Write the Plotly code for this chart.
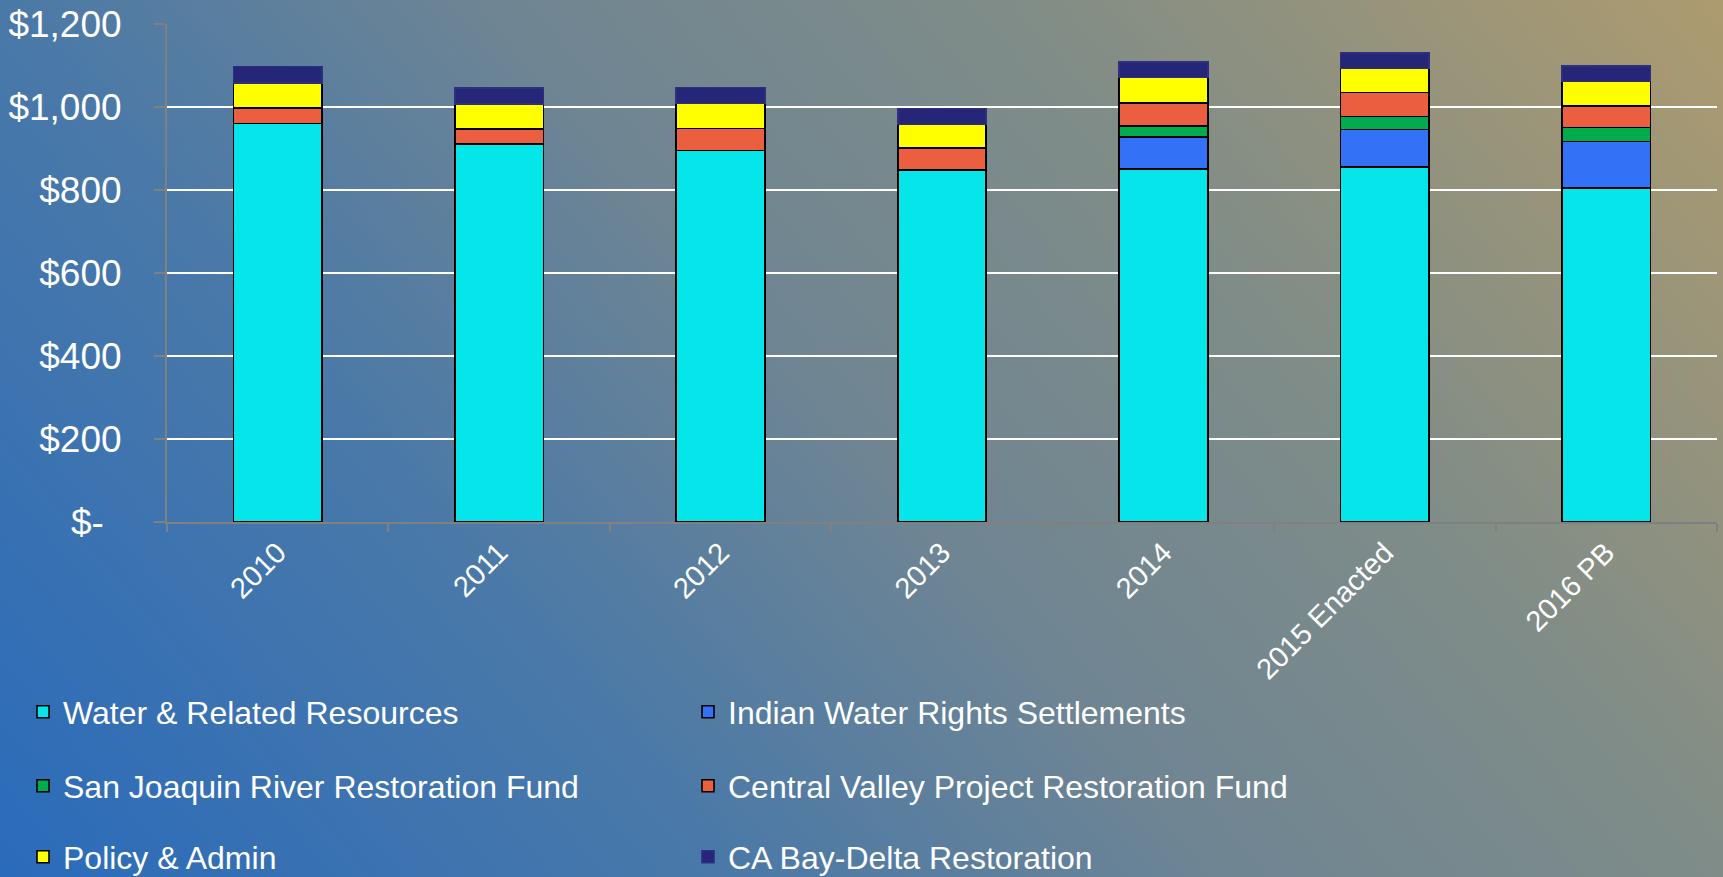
import base64
import plotly.graph_objects as go

# ---------------- data ----------------
categories = ["2010", "2011", "2012", "2013", "2014", "2015 Enacted", "2016 PB"]

water_related = [960, 911, 895, 848, 851, 855, 805]
indian_water = [0, 0, 0, 0, 77, 91, 112]
san_joaquin = [0, 0, 0, 0, 26, 31, 34]
cvp_restoration = [37, 36, 53, 53, 56, 58, 51]
policy_admin = [61, 60, 60, 57, 61, 58, 59]
bay_delta = [40, 39, 39, 38, 37, 37, 38]

series_names = [
    "Water & Related Resources",
    "Indian Water Rights Settlements",
    "San Joaquin River Restoration Fund",
    "Central Valley Project Restoration Fund",
    "Policy & Admin",
    "CA Bay-Delta Restoration",
]
series_values = [water_related, indian_water, san_joaquin, cvp_restoration, policy_admin, bay_delta]
series_colors = ["#05e6eb", "#3371f6", "#00ab4f", "#eb5e40", "#ffff00", "#262679"]
line_colors = ["#000000", "#000000", "#000000", "#000000", "#000000", "#2f2f80"]
legend_ids = ["legend", "legend", "legend2", "legend2", "legend3", "legend3"]

y_tickvals = [0, 200, 400, 600, 800, 1000, 1200]
y_ticktext = ["$-\u00a0\u2009", "$200", "$400", "$600", "$800", "$1,000", "$1,200"]

# ---------------- layout geometry ----------------
W, H = 1723, 877
ML, MR, MT, MB = 167, 6, 24, 355
PW, PH = W - ML - MR, H - MT - MB

FONT = "Liberation Sans, Arial, sans-serif"

fig = go.Figure()
for name, vals, col, lc, lg in zip(series_names, series_values, series_colors, line_colors, legend_ids):
    fig.add_trace(go.Bar(
        x=categories, y=vals, name=name, legend=lg,
        marker=dict(color=col, line=dict(color=lc, width=1.6)),
    ))

# gradient background as an SVG image
gx2, gy2 = 1440, -336
svg = (
    f'<svg xmlns="http://www.w3.org/2000/svg" width="{W}" height="{H}" viewBox="0 0 {W} {H}" preserveAspectRatio="none">'
    f'<defs><linearGradient id="g" gradientUnits="userSpaceOnUse" x1="0" y1="{H}" x2="{gx2}" y2="{gy2}">'
    '<stop offset="0" stop-color="#2a6bbb"/>'
    '<stop offset="0.3" stop-color="#4a79a8"/>'
    '<stop offset="0.5" stop-color="#6f8593"/>'
    '<stop offset="0.7" stop-color="#7f8c88"/>'
    '<stop offset="1" stop-color="#ad9b6f"/>'
    '</linearGradient></defs>'
    f'<rect x="0" y="0" width="{W}" height="{H}" fill="url(#g)"/></svg>'
)
src = "data:image/svg+xml;base64," + base64.b64encode(svg.encode()).decode()

fig.add_layout_image(dict(
    source=src, xref="paper", yref="paper",
    x=-ML / PW, y=1 + MT / PH, sizex=W / PW, sizey=H / PH,
    xanchor="left", yanchor="top", sizing="stretch", layer="below",
))

legend_common = dict(
    orientation="h", xref="container", yref="container", xanchor="left", yanchor="middle",
    font=dict(family=FONT, size=32, color="white"), bgcolor="rgba(0,0,0,0)",
    entrywidth=620, entrywidthmode="pixels", itemclick=False, traceorder="normal",
)

fig.update_layout(
    width=W, height=H,
    margin=dict(l=ML, r=MR, t=MT, b=MB, pad=0, autoexpand=False),
    paper_bgcolor="#6f8593",
    plot_bgcolor="rgba(0,0,0,0)",
    barmode="stack",
    bargap=0.6,
    font=dict(family=FONT, color="white"),
    legend=dict(**legend_common, x=23 / W, y=1 - 712 / H),
    legend2=dict(**legend_common, x=23 / W, y=1 - 786 / H),
    legend3=dict(**legend_common, x=23 / W, y=1 - 857 / H),
    xaxis=dict(
        type="category", tickangle=-45, tickfont=dict(family=FONT, size=29, color="white"),
        showline=True, linecolor="#808080", linewidth=2,
        ticks="outside", tickson="boundaries", ticklen=8, tickcolor="#808080", tickwidth=2,
        showgrid=False, automargin=False,
    ),
    yaxis=dict(
        range=[0, 1200], tickvals=y_tickvals, ticktext=y_ticktext,
        tickfont=dict(family=FONT, size=37, color="white"),
        showline=True, linecolor="#808080", linewidth=2,
        ticks="outside", ticklen=11, tickcolor="#808080", tickwidth=2,
        showgrid=True, gridcolor="white", gridwidth=2,
        zeroline=False, ticklabelstandoff=25, automargin=False,
    ),
)

fig.write_html(
    "out.html",
    config={"displayModeBar": False},
    post_script="document.body.style.margin='0';document.body.style.overflow='hidden';",
)
